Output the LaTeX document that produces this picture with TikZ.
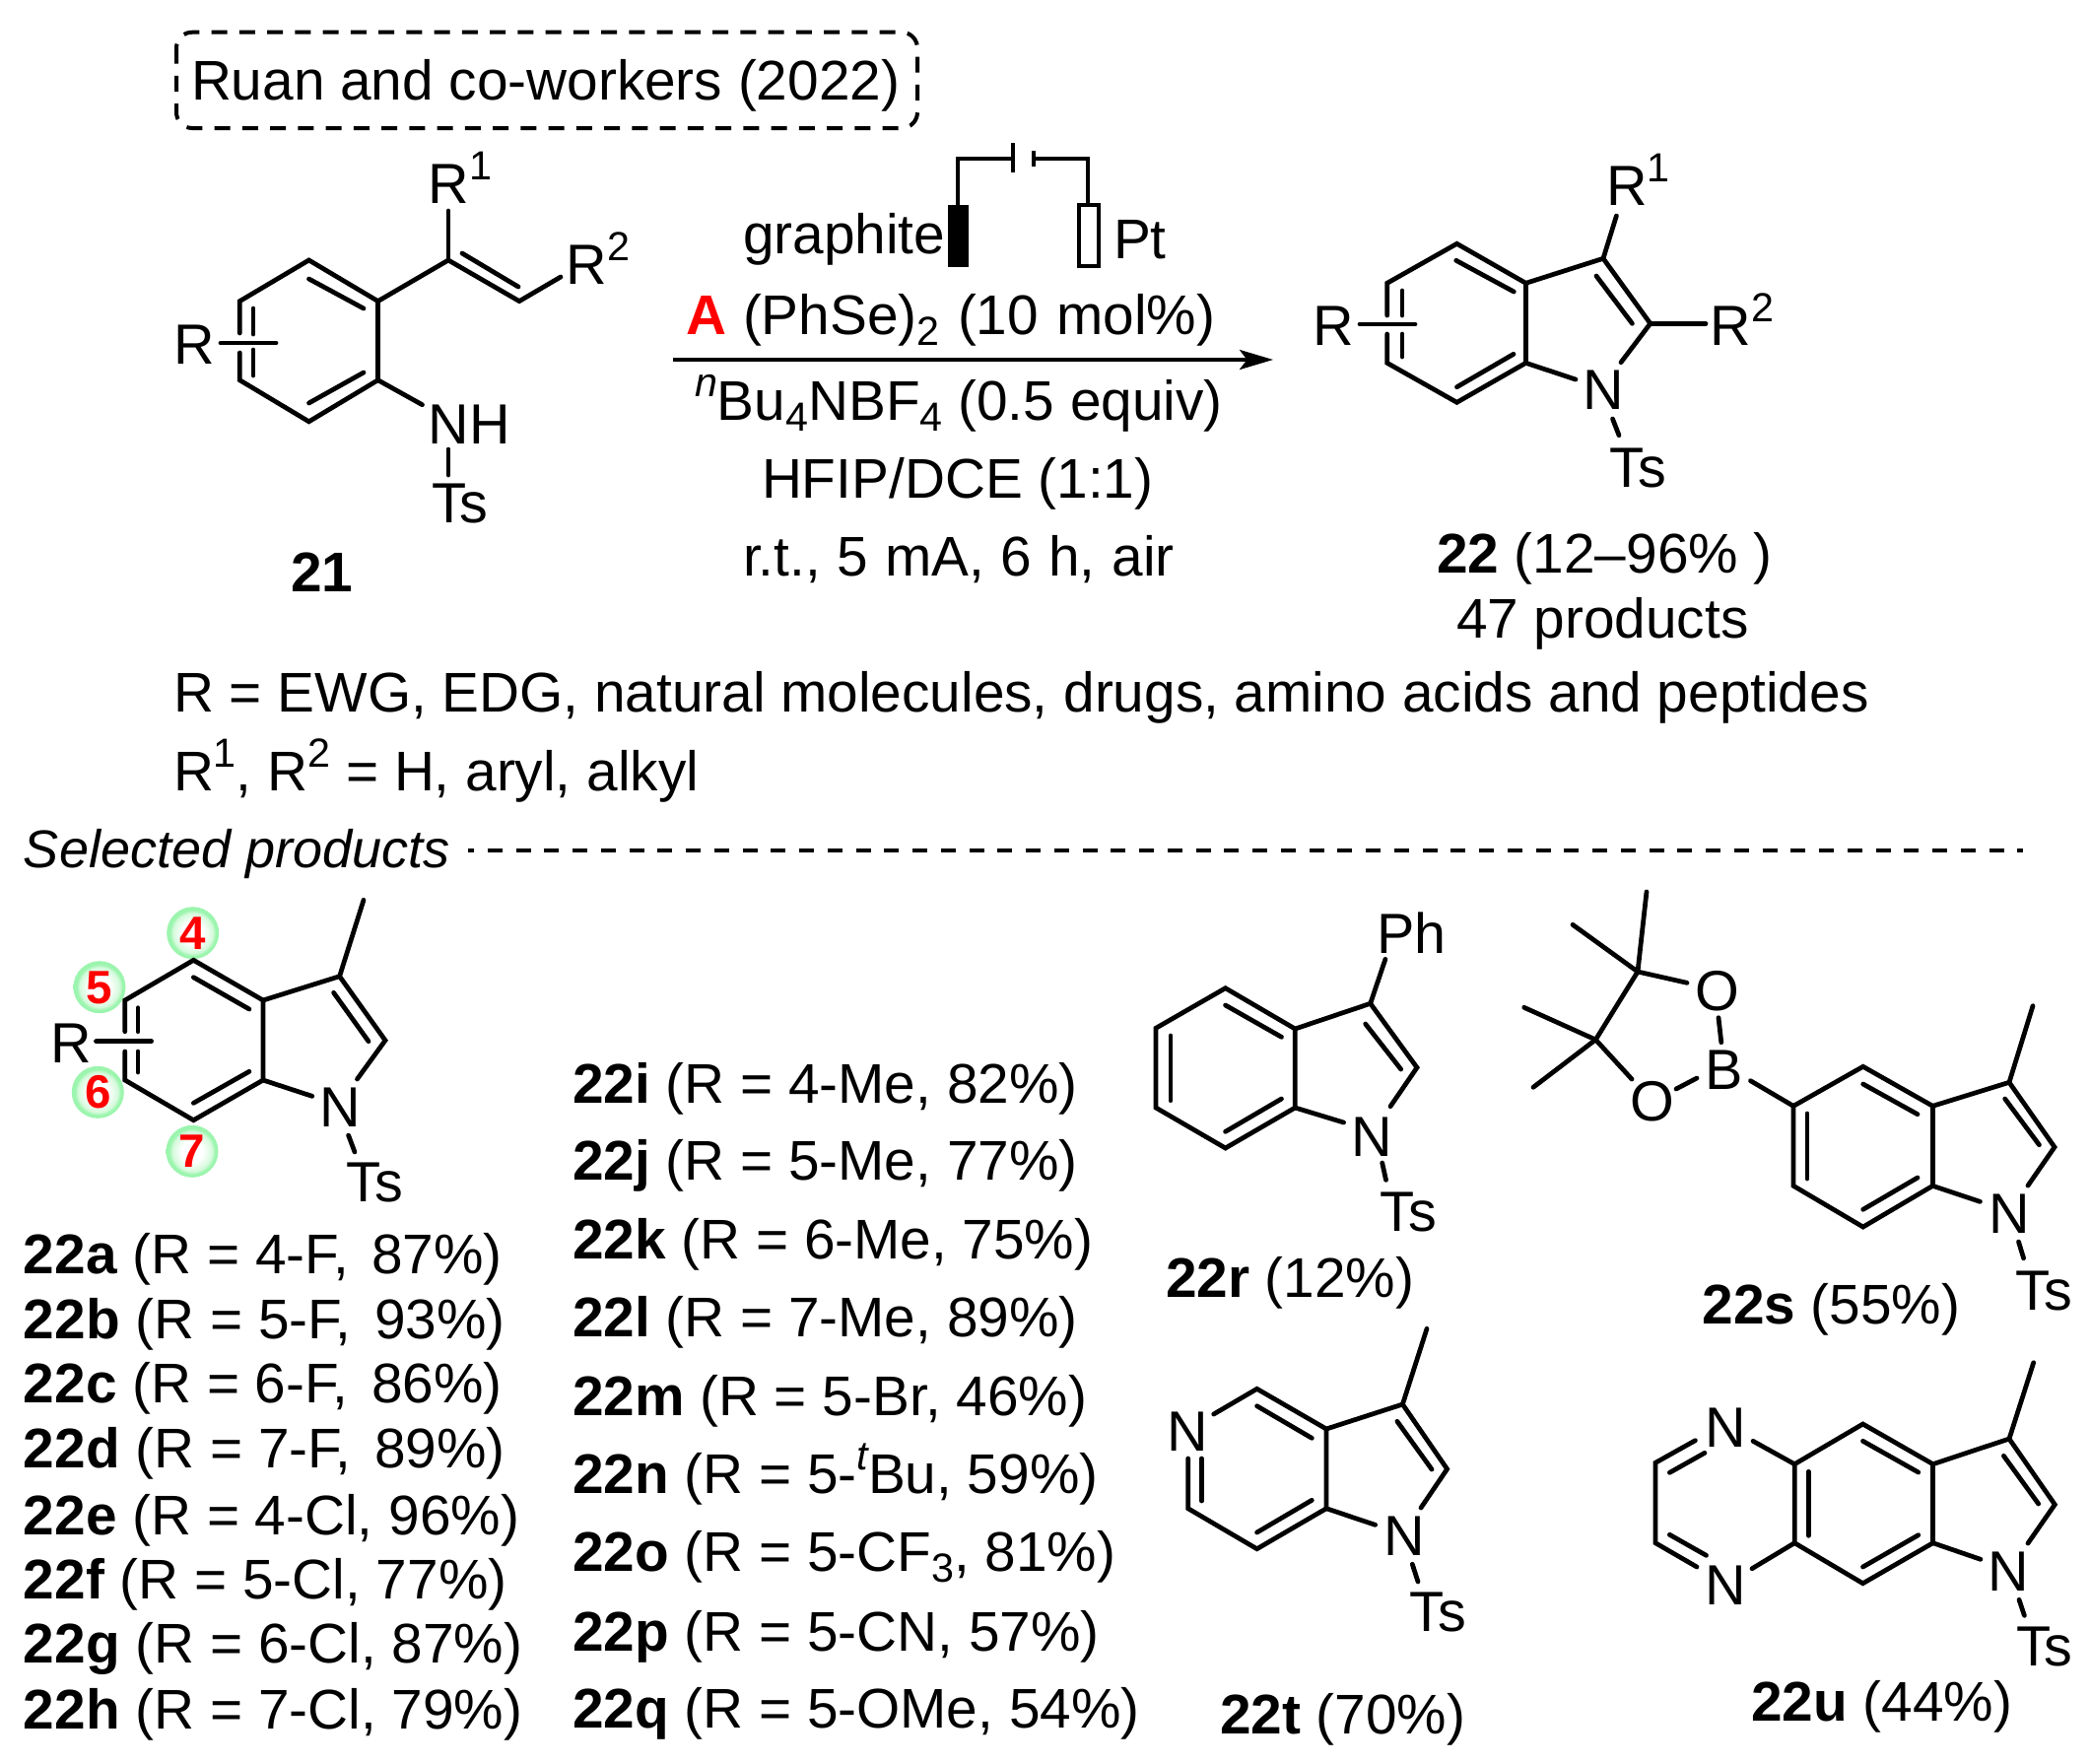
\documentclass[tikz,border=0pt]{standalone}
\usepackage{fontspec}
\setmainfont{Liberation Sans}
\usetikzlibrary{arrows.meta}
\definecolor{ballgreen}{HTML}{9CF5AE}
\definecolor{ballmid}{HTML}{D5FADC}
\pgfdeclareradialshading{ballshade}{\pgfpoint{0bp}{0bp}}{color(0bp)=(white); color(10bp)=(white); color(19bp)=(ballmid); color(22bp)=(ballgreen); color(50bp)=(ballgreen)}
\newcommand\upr[1]{\raisebox{9.4pt}{\fontsize{16.5}{18}\selectfont #1}}
\newcommand\dnr[1]{\raisebox{-4.5pt}{\fontsize{16.5}{18}\selectfont #1}}
\tikzset{
  tx/.style={anchor=base west,inner sep=0pt,outer sep=0pt,font=\fontsize{22.7}{27}\selectfont},
  atm/.style={anchor=base west,inner sep=0pt,outer sep=0pt,font=\fontsize{23}{27}\selectfont},
  num/.style={anchor=center,inner sep=0pt,outer sep=0pt,text=red,font=\fontsize{19}{21}\selectfont\bfseries},
  bd/.style={line width=1.9pt,line join=miter,line cap=round},
  ball/.style={shading=ballshade},
}
\begin{document}
\begin{tikzpicture}[x=0.4pt,y=-0.4pt]
\useasboundingbox (0,0) rectangle (2121,1789);
\fill[white] (0,0) rectangle (2121,1789);

% ---- header box
\coordinate (boxa) at (179,32.7); \coordinate (boxb) at (931,130);
\draw[line width=1.6pt,rounded corners=6.4pt,dash pattern=on 6.4pt off 4.9pt] (boxa) rectangle (boxb);
\node[tx] (title) at (194,101) {Ruan and co-workers (2022)};

% ---- substrate 21
\coordinate (a1) at (313.5,264); \coordinate (a2) at (383.6,305.6); \coordinate (a3) at (383.6,385.7);
\coordinate (a4) at (313.5,427.8); \coordinate (a5) at (243.3,385.7); \coordinate (a6) at (243.3,305.6);
\coordinate (a5g) at (243.3,358); \coordinate (a6g) at (243.3,338);
\coordinate (av1) at (455,264); \coordinate (av2) at (527,305.6);
\coordinate (avr1) at (455,214); \coordinate (avr2) at (569,281);
\coordinate (aRa) at (224,348); \coordinate (aRb) at (280,348);
\coordinate (an) at (428.5,410.7); \coordinate (ant1) at (455,456); \coordinate (ant2) at (455,482);
\draw[bd] (a6g)--(a6)--(a1)--(a2)--(a3)--(a4)--(a5)--(a5g);
\draw[bd] (a2)--(av1)--(av2)--(avr2);
\draw[bd] (av1)--(avr1);
\draw[bd] (a3)--(an);
\draw[bd] (ant1)--(ant2);
\draw[bd] (aRa)--(aRb);
\draw[bd] (313.5,283)--(369,313);
\draw[bd] (313.5,409)--(369,378);
\draw[bd] (257,313)--(257,339);
\draw[bd] (257,355)--(257,381);
\draw[bd] (469,257)--(526,291);
\node[atm] (aR1) at (434.5,206) {R\upr{1}};
\node[atm] (aR2) at (574.5,288) {R\upr{2}};
\node[atm] (aR) at (176.5,369) {R};
\node[atm] (aNH) at (434.5,450) {NH};
\node[atm] (aTs) at (438,530) {Ts};
\node[tx] (c21) at (295,600) {\bfseries 21};

% ---- electrodes
\coordinate (e1) at (972,208); \coordinate (e2) at (972,161); \coordinate (e3) at (1028,161);
\coordinate (e4) at (1048.6,161); \coordinate (e5) at (1104,161); \coordinate (e6) at (1104,208);
\draw[line width=1.6pt] (e1)--(e2)--(e3);
\draw[line width=1.6pt] (e4)--(e5)--(e6);
\draw[line width=1.6pt] (1028,145)--(1028,175);
\draw[line width=1.6pt] (1048.6,153)--(1048.6,169);
\fill[black] (961.6,208) rectangle (983.4,271);
\draw[line width=1.6pt,fill=white] (1095,208) rectangle (1114.6,270);
\node[tx] (graph) at (754,257) {graphite};
\node[tx] (pt) at (1130,262) {Pt};

% ---- reagents and arrow
\node[tx] (rA) at (696,339) {\textcolor{red}{\bfseries A}};
\node[tx] (r1) at (754,339) {\spaceskip=7.4pt (PhSe)\dnr{2} (10 mol\%)};
\coordinate (ar1) at (683,365); \coordinate (ar2) at (1292,365);
\draw[line width=1.5pt,-{Stealth[length=13.6pt,width=8pt,inset=3pt]}] (ar1)--(ar2);
\node[tx] (r2) at (705,426) {\upr{\itshape n}Bu\dnr{4}NBF\dnr{4} (0.5 equiv)};
\node[tx] (r3) at (773,505) {HFIP/DCE (1:1)};
\node[tx] (r4) at (754,584) {\spaceskip=6.75pt r.t., 5 mA, 6 h, air};

% ---- product 22
\coordinate (b1) at (1478.5,247.3); \coordinate (b2) at (1407.7,287.3); \coordinate (b3) at (1407.7,368.3);
\coordinate (b4) at (1478.5,408.3); \coordinate (b5) at (1548.5,368.3); \coordinate (b6) at (1548.5,287.3);
\coordinate (b7) at (1627,262.3); \coordinate (b8) at (1674.8,328.3);
\draw[bd] (1407.7,320)--(b2)--(b1)--(b6)--(b5)--(b4)--(b3)--(1407.7,339);
\draw[bd] (b6)--(b7)--(b8)--(1645,367.7);
\draw[bd] (b5)--(1599,385);
\draw[bd] (b7)--(1640.4,219);
\draw[bd] (b8)--(1731,328.3);
\draw[bd] (1636.5,425)--(1643,441.7);
\draw[bd] (1380,329)--(1436,329);
\draw[bd] (1477.7,264.3)--(1536.3,296);
\draw[bd] (1478.5,392.7)--(1536,359.3);
\draw[bd] (1423,295)--(1423,320);
\draw[bd] (1423,339)--(1423,362);
\draw[bd] (1620,280)--(1656.4,328.3);
\node[atm] (bR1) at (1630,208) {R\upr{1}};
\node[atm] (bR2) at (1735.5,350) {R\upr{2}};
\node[atm] (bR) at (1332.5,350) {R};
\node[atm] (bN) at (1606,415) {N};
\node[atm] (bTs) at (1633.5,494.5) {Ts};
\node[tx] (c22) at (1458,581) {\textbf{22} (12–96\% )};
\node[tx] (p47) at (1478,647) {47 products};

% ---- scope text
\node[tx] (s1) at (176,722) {R = EWG, EDG, natural molecules, drugs, amino acids and peptides};
\node[tx] (s2) at (176,802) {R\upr{1}, R\upr{2} = H, aryl, alkyl};
\node[tx,font=\fontsize{21.6}{26}\selectfont\itshape] (s3) at (24,880) {Selected products};
\coordinate (da) at (475,863); \coordinate (db) at (2053,863);
\draw[line width=1.6pt,dash pattern=on 6pt off 5.5pt,dash phase=3.6pt] (da)--(db);

% ---- general indole with position balls
\shade[ball] (195.7,946.7) circle (26.5);
\shade[ball] (101,1001.7) circle (26.5);
\shade[ball] (99.3,1108.3) circle (26.5);
\shade[ball] (195,1168.3) circle (26.5);
\node[num] (n4) at (195.7,947) {4};
\node[num] (n5) at (101,1002) {5};
\node[num] (n6) at (99.3,1108) {6};
\node[num] (n7) at (195,1168) {7};
\coordinate (c1) at (196.4,974.3); \coordinate (c2) at (126.8,1015); \coordinate (c3) at (126.8,1096);
\coordinate (c4) at (196.4,1136.7); \coordinate (c5) at (267,1096); \coordinate (c6) at (267,1015);
\coordinate (c7) at (344.6,990.7); \coordinate (c8) at (391,1055.7); \coordinate (c9) at (369,913.3);
\draw[bd] (126.8,1046.7)--(c2)--(c1)--(c6)--(c5)--(c4)--(c3)--(126.8,1067);
\draw[bd] (c6)--(c7)--(c8)--(362.5,1095);
\draw[bd] (c5)--(316.8,1112.3);
\draw[bd] (c7)--(c9);
\draw[bd] (353.6,1152)--(360,1169);
\draw[bd] (97.5,1056.7)--(153.6,1056.7);
\draw[bd] (196.4,991.7)--(252.9,1024);
\draw[bd] (196.4,1119.3)--(252.9,1087.3);
\draw[bd] (140,1022.7)--(140,1046.7);
\draw[bd] (140,1067)--(140,1088);
\draw[bd] (338.6,1007.3)--(374,1056.7);
\node[atm] (cR) at (51,1078) {R};
\node[atm] (cN) at (324,1143) {N};
\node[atm] (cTs) at (351.5,1219) {Ts};

% ---- list, column 1
\node[tx] (la) at (24,1292) {\textbf{22a} (R = 4-F,\hspace{9.4pt}87\%)};
\node[tx] (lb) at (24,1358) {\textbf{22b} (R = 5-F,\hspace{9.4pt}93\%)};
\node[tx] (lc) at (24,1423) {\textbf{22c} (R = 6-F,\hspace{9.4pt}86\%)};
\node[tx] (ld) at (24,1489) {\textbf{22d} (R = 7-F,\hspace{9.4pt}89\%)};
\node[tx] (le) at (24,1557) {\textbf{22e} (R = 4-Cl, 96\%)};
\node[tx] (lf) at (24,1622) {\textbf{22f} (R = 5-Cl, 77\%)};
\node[tx] (lg) at (24,1687) {\textbf{22g} (R = 6-Cl, 87\%)};
\node[tx] (lh) at (24,1754) {\textbf{22h} (R = 7-Cl, 79\%)};
% ---- list, column 2
\node[tx] (li) at (581,1119) {\textbf{22i} (R = 4-Me, 82\%)};
\node[tx] (lj) at (581,1197) {\textbf{22j} (R = 5-Me, 77\%)};
\node[tx] (lk) at (581,1277) {\textbf{22k} (R = 6-Me, 75\%)};
\node[tx] (ll) at (581,1356) {\textbf{22l} (R = 7-Me, 89\%)};
\node[tx] (lm) at (581,1436) {\textbf{22m} (R = 5-Br, 46\%)};
\node[tx] (ln) at (581,1515) {\textbf{22n} (R = 5-\upr{\itshape t}Bu, 59\%)};
\node[tx] (lo) at (581,1594) {\textbf{22o} (R = 5-CF\dnr{3}, 81\%)};
\node[tx] (lp) at (581,1675) {\textbf{22p} (R = 5-CN, 57\%)};
\node[tx] (lq) at (581,1753) {\textbf{22q} (R = 5-OMe, 54\%)};

% ---- 22r
\coordinate (d1) at (1243.6,1002.7); \coordinate (d2) at (1173,1043.3); \coordinate (d3) at (1173,1124);
\coordinate (d4) at (1243.6,1165); \coordinate (d5) at (1314.3,1124); \coordinate (d6) at (1314.3,1044);
\coordinate (d7) at (1390.7,1018.3); \coordinate (d8) at (1438,1083.3);
\draw[bd] (d1)--(d2)--(d3)--(d4)--(d5)--(d6)--cycle;
\draw[bd] (d6)--(d7)--(d8)--(1411,1122.7);
\draw[bd] (d5)--(1363.6,1139);
\draw[bd] (d7)--(1405.9,973.3);
\draw[bd] (1402.7,1180)--(1406.5,1197.3);
\draw[bd] (1243.6,1020)--(1300.5,1052.3);
\draw[bd] (1188,1051)--(1188,1116.7);
\draw[bd] (1243.6,1148.3)--(1300.5,1115);
\draw[bd] (1385.7,1039)--(1421.7,1085);
\node[atm] (dPh) at (1397,967) {Ph};
\node[atm] (dN) at (1371.5,1173) {N};
\node[atm] (dTs) at (1400.5,1249.5) {Ts};
\node[tx] (c22r) at (1183,1316) {\textbf{22r} (12\%)};

% ---- 22s
\coordinate (f1) at (1662,986); \coordinate (f2) at (1619.3,1055);
\draw[bd] (f1)--(f2);
\draw[bd] (f1)--(1671,905);
\draw[bd] (f1)--(1596,938.3);
\draw[bd] (f2)--(1546.7,1022.3);
\draw[bd] (f2)--(1556,1103.3);
\draw[bd] (f1)--(1712,997.3);
\draw[bd] (f2)--(1656,1095);
\draw[bd] (1744,1032.7)--(1746.8,1057.7);
\draw[bd] (1701,1105)--(1722,1094);
\coordinate (g1) at (1890.7,1082.3); \coordinate (g2) at (1820,1122.3); \coordinate (g3) at (1820,1203.3);
\coordinate (g4) at (1890.7,1245); \coordinate (g5) at (1961.4,1203.3); \coordinate (g6) at (1961.4,1122.3);
\coordinate (g7) at (2039,1098.3); \coordinate (g8) at (2085,1164);
\draw[bd] (1776.5,1096.7)--(g2);
\draw[bd] (g1)--(g2)--(g3)--(g4)--(g5)--(g6)--cycle;
\draw[bd] (g6)--(g7)--(g8)--(2058,1203);
\draw[bd] (g5)--(2009.4,1219.3);
\draw[bd] (g7)--(2063,1020.7);
\draw[bd] (2048.5,1260)--(2053.6,1276.7);
\draw[bd] (1890.7,1100)--(1946,1130.7);
\draw[bd] (1834,1130)--(1834,1196);
\draw[bd] (1890.7,1227.3)--(1946,1195);
\draw[bd] (2034.7,1115)--(2069.4,1161.7);
\node[atm] (fO1) at (1720,1025.5) {O};
\node[atm] (fO2) at (1654,1137) {O};
\node[atm] (fB) at (1730.5,1105) {B};
\node[atm] (gN) at (2018.5,1251.5) {N};
\node[atm] (gTs) at (2045.7,1329.5) {Ts};
\node[tx] (c22s) at (1727.5,1343) {\textbf{22s} (55\%)};

% ---- 22t
\coordinate (h1) at (1275.6,1409.3); \coordinate (h3) at (1205.7,1530.7);
\coordinate (h4) at (1275.6,1571.7); \coordinate (h5) at (1346,1530.7); \coordinate (h6) at (1346,1450);
\coordinate (h7) at (1423.4,1425); \coordinate (h8) at (1468.6,1490.7);
\draw[bd] (1231.7,1435)--(h1)--(h6)--(h5)--(h4)--(h3)--(1205.7,1480);
\draw[bd] (h6)--(h7)--(h8)--(1442,1530);
\draw[bd] (h5)--(1395.6,1547.3);
\draw[bd] (h7)--(1448,1348.3);
\draw[bd] (1433.3,1587.3)--(1439,1605);
\draw[bd] (1219.3,1480)--(1219.3,1523);
\draw[bd] (1275.6,1426.7)--(1331.3,1459.3);
\draw[bd] (1275.6,1555)--(1331.3,1522.3);
\draw[bd] (1417.9,1442.3)--(1453,1491);
\node[atm] (hN1) at (1184.5,1472.3) {N};
\node[atm] (hN) at (1404,1578.5) {N};
\node[atm] (hTs) at (1430.5,1655.5) {Ts};
\node[tx] (c22t) at (1238,1759) {\textbf{22t} (70\%)};

% ---- 22u
\coordinate (k1) at (1890.5,1445); \coordinate (k2) at (1821.2,1485.7); \coordinate (k3) at (1821.2,1565.7);
\coordinate (k4) at (1890.5,1606.7); \coordinate (k5) at (1961.6,1565.7); \coordinate (k6) at (1961.6,1485.7);
\coordinate (k7) at (2039,1460); \coordinate (k8) at (2085.3,1526.7);
\coordinate (k9) at (1680,1484.3); \coordinate (k10) at (1680,1565.7);
\draw[bd] (k1)--(k2)--(k3)--(k4)--(k5)--(k6)--cycle;
\draw[bd] (k6)--(k7)--(k8)--(2058,1566);
\draw[bd] (k5)--(2010,1582.3);
\draw[bd] (k7)--(2063.7,1382.7);
\draw[bd] (2049,1623.3)--(2054.4,1639.3);
\draw[bd] (1720.4,1461.7)--(k9)--(k10)--(1722,1590);
\draw[bd] (1694.4,1494.3)--(1730,1474.3);
\draw[bd] (1694.4,1557.3)--(1731.5,1578.3);
\draw[bd] (1779,1462.3)--(k2);
\draw[bd] (1778,1591.7)--(k3);
\draw[bd] (1835.4,1493.3)--(1835.4,1558.3);
\draw[bd] (1890.5,1462.3)--(1946.8,1494);
\draw[bd] (1890.5,1590)--(1946.8,1557.7);
\draw[bd] (2033.4,1477.3)--(2068.7,1526);
\node[atm] (kN1) at (1730,1468) {N};
\node[atm] (kN2) at (1730,1628.5) {N};
\node[atm] (kN) at (2017.5,1614.5) {N};
\node[atm] (kTs) at (2046,1690) {Ts};
\node[tx] (c22u) at (1777,1746) {\textbf{22u} (44\%)};
\end{tikzpicture}
\end{document}
